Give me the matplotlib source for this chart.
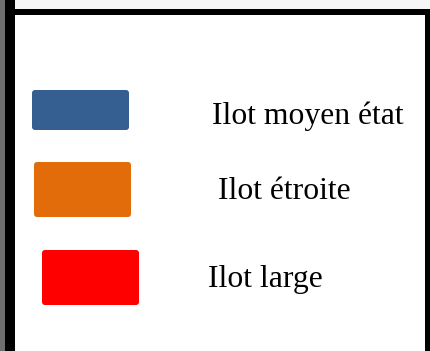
import matplotlib
matplotlib.use("Agg")
import matplotlib.pyplot as plt
from matplotlib.patches import FancyBboxPatch, Rectangle

labels = ["Ilot moyen état", "Ilot étroite", "Ilot large"]
colors = ["#365f91", "#e36c0a", "#ff0000"]

# layout (pixel coordinates)
box_x = [32, 34, 42]
box_y = [90, 162, 250]
box_w = [97, 97, 97]
box_h = [40, 55, 55]
text_x = [212, 218, 208]
text_base = [124, 199, 287]

fig = plt.figure(figsize=(4.30, 3.51), dpi=100)
ax = fig.add_axes([0, 0, 1, 1])
ax.set_xlim(0, 430)
ax.set_ylim(351, 0)
ax.axis("off")

# frame
ax.add_patch(Rectangle((0, 0), 5, 351, color="#6e6e6e", lw=0))
ax.add_patch(Rectangle((5, 0), 10, 351, color="black", lw=0))
ax.add_patch(Rectangle((15, 0), 415, 9, color="#f6f6f6", lw=0))
ax.add_patch(Rectangle((5, 9), 425, 6, color="black", lw=0))
ax.add_patch(Rectangle((425, 9), 5, 342, color="black", lw=0))

for x, y, w, h, c in zip(box_x, box_y, box_w, box_h, colors):
    ax.add_patch(FancyBboxPatch((x + 2, y + 2), w - 4, h - 4,
                                boxstyle="round,pad=2,rounding_size=3",
                                fc=c, ec=c, lw=0))

for lab, x, yb in zip(labels, text_x, text_base):
    ax.text(x, yb, lab, fontsize=22.8, family="Liberation Serif",
            ha="left", va="baseline", color="black")

fig.savefig("out.png", dpi=100)
